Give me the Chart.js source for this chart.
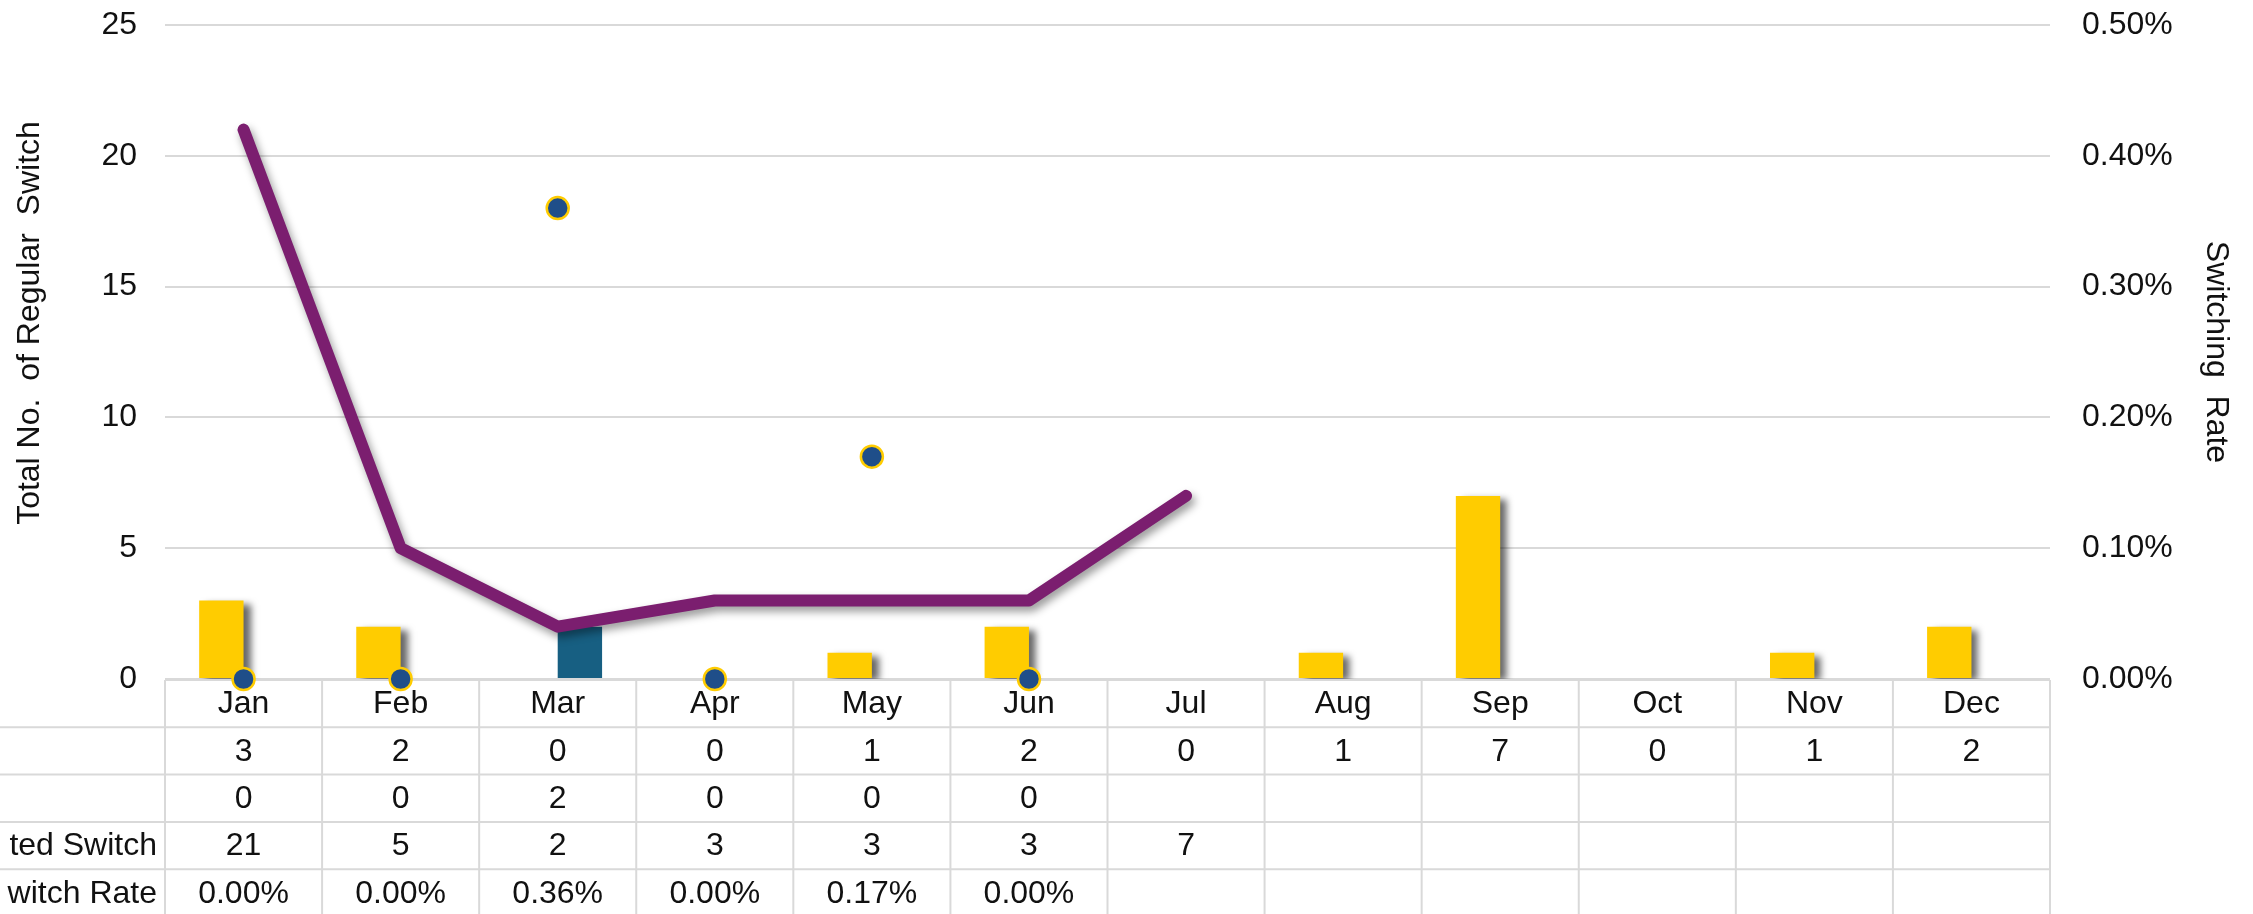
<!DOCTYPE html>
<html><head><meta charset="utf-8">
<script src="https://cdn.jsdelivr.net/npm/chart.js@4.4.1/dist/chart.umd.min.js"></script>
<style>html,body{margin:0;padding:0;background:#fff;overflow:hidden}#wrap{width:2253px;height:914px;position:relative}</style>
</head><body><div id="wrap"><canvas id="c"></canvas></div>
<script>
const categories = ['Jan','Feb','Mar','Apr','May','Jun','Jul','Aug','Sep','Oct','Nov','Dec'];
const regularSwitch = [3,2,0,0,1,2,0,1,7,0,1,2];
const otherSwitch = [0,0,2,0,0,0,null,null,null,null,null,null];
const totalSwitch = [21,5,2,3,3,3,7,null,null,null,null,null];
const switchRate = [0.00,0.00,0.36,0.00,0.17,0.00,null,null,null,null,null,null]; // percent
const leftTicks = [0,5,10,15,20,25];
const rightTicks = [0,0.1,0.2,0.3,0.4,0.5];
const rowLabels = ['', '', 'ted Switch', 'witch Rate'];
const leftTitle = 'Total No.  of Regular  Switch';
const rightTitle = 'Switching  Rate';

const FONT = '"Liberation Sans", Arial, sans-serif';
const fmtPct = v => v.toFixed(2) + '%';

const shadowPlugin = {
  id: 'shadow',
  beforeDatasetDraw(chart, args) {
    const ds = chart.data.datasets[args.index];
    if (ds.shadowColor) {
      const c = chart.ctx; c.save();
      c.shadowColor = ds.shadowColor; c.shadowBlur = ds.shadowBlur;
      c.shadowOffsetX = ds.shadowOffsetX; c.shadowOffsetY = ds.shadowOffsetY;
      args.meta._sh = true;
    }
  },
  afterDatasetDraw(chart, args) {
    if (args.meta._sh) { chart.ctx.restore(); args.meta._sh = false; }
  }
};

const tablePlugin = {
  id: 'dataTable',
  beforeDatasetsDraw(chart) {
    const {ctx, chartArea, scales: {x}} = chart;
    const top = chartArea.bottom + 1;
    const rowH = 47.3;
    const n = categories.length;
    const colW = (chartArea.right - chartArea.left) / n;
    ctx.save();
    ctx.strokeStyle = '#d9d9d9'; ctx.lineWidth = 2;
    for (let r = 0; r <= 4; r++) {
      const y = top + r * rowH;
      ctx.beginPath(); ctx.moveTo(r === 0 ? chartArea.left : 0, y); ctx.lineTo(chartArea.right, y); ctx.stroke();
    }
    for (let i = 0; i <= n; i++) {
      const xx = chartArea.left + i * colW;
      ctx.beginPath(); ctx.moveTo(xx, top); ctx.lineTo(xx, chart.height); ctx.stroke();
    }
    ctx.fillStyle = '#111';
    ctx.font = '32px ' + FONT;
    ctx.textAlign = 'center'; ctx.textBaseline = 'middle';
    const rows = [
      categories,
      regularSwitch.map(v => v == null ? '' : String(v)),
      otherSwitch.map(v => v == null ? '' : String(v)),
      totalSwitch.map(v => v == null ? '' : String(v)),
      switchRate.map(v => v == null ? '' : fmtPct(v))
    ];
    rows.forEach((row, r) => {
      const cy = top + r * rowH + rowH / 2 + 1;
      row.forEach((t, i) => { if (t !== '') ctx.fillText(t, x.getPixelForValue(i), cy); });
    });
    ctx.textAlign = 'right';
    rowLabels.forEach((t, r) => {
      const cy = top + (r + 1) * rowH + rowH / 2 + 1;
      if (t) ctx.fillText(t, chartArea.left - 8, cy);
    });
    // left axis title
    ctx.save();
    ctx.translate(30, 323);
    ctx.rotate(-Math.PI / 2);
    ctx.textAlign = 'center'; ctx.textBaseline = 'middle';
    ctx.fillText(leftTitle, 0, 0);
    ctx.restore();
    ctx.restore();
  }
};

new Chart(document.getElementById('c'), {
  data: {
    labels: categories,
    datasets: [
      { type: 'line', label: 'Switch Rate', data: switchRate, yAxisID: 'y1', showLine: false,
        pointRadius: 11, pointHoverRadius: 11, pointBorderWidth: 2.5,
        pointBackgroundColor: '#1F4E89', pointBorderColor: '#FFCC00', clip: false, order: 1 },
      { type: 'line', label: 'Total Switch', data: totalSwitch, yAxisID: 'y',
        borderColor: '#7B1E6F', borderWidth: 12, borderCapStyle: 'round', borderJoinStyle: 'round',
        pointRadius: 0, tension: 0, order: 2, clip: false,
        shadowColor: 'rgba(0,0,0,0.4)', shadowBlur: 8, shadowOffsetX: 3, shadowOffsetY: 5 },
      { type: 'bar', label: 'Regular Switch', data: regularSwitch, yAxisID: 'y',
        backgroundColor: '#FFCC00', categoryPercentage: 0.565, barPercentage: 1, order: 3,
        shadowColor: 'rgba(0,0,0,0.6)', shadowBlur: 7, shadowOffsetX: 7, shadowOffsetY: 3 },
      { type: 'bar', label: 'Other Switch', data: otherSwitch, yAxisID: 'y',
        backgroundColor: '#175F82', categoryPercentage: 0.565, barPercentage: 1, order: 3 }
    ]
  },
  options: {
    responsive: true, maintainAspectRatio: false, animation: false,
    layout: { autoPadding: false, padding: { top: 25, left: 0, right: 0, bottom: 235 } },
    plugins: { legend: { display: false }, tooltip: { enabled: false } },
    scales: {
      x: {
        grid: { display: false, drawTicks: false }, border: { display: false },
        ticks: { display: false },
        afterFit: s => { s.height = 0; s.paddingLeft = 0; s.paddingRight = 0; }
      },
      y: {
        position: 'left', min: 0, max: 25,
        afterBuildTicks: s => { s.ticks = leftTicks.map(v => ({ value: v })); },
        afterFit: s => { s.width = 165; s.paddingTop = 0; s.paddingBottom = 0; },
        grid: { color: '#d9d9d9', lineWidth: 2, drawTicks: false },
        border: { display: false },
        ticks: { color: '#111', font: { family: FONT, size: 32 }, padding: 28 },
        title: { display: false }
      },
      y1: {
        position: 'right', min: 0, max: 0.5,
        afterBuildTicks: s => { s.ticks = rightTicks.map(v => ({ value: v })); },
        afterFit: s => { s.width = 203; s.paddingTop = 0; s.paddingBottom = 0; },
        grid: { display: false, drawTicks: false },
        border: { display: false },
        ticks: { color: '#111', font: { family: FONT, size: 32 }, padding: 32, callback: v => fmtPct(v) },
        title: { display: true, text: rightTitle, color: '#111', font: { family: FONT, size: 32 }, padding: { top: 18, bottom: 0 } }
      }
    }
  },
  plugins: [shadowPlugin, tablePlugin]
});
</script>
</body></html>
